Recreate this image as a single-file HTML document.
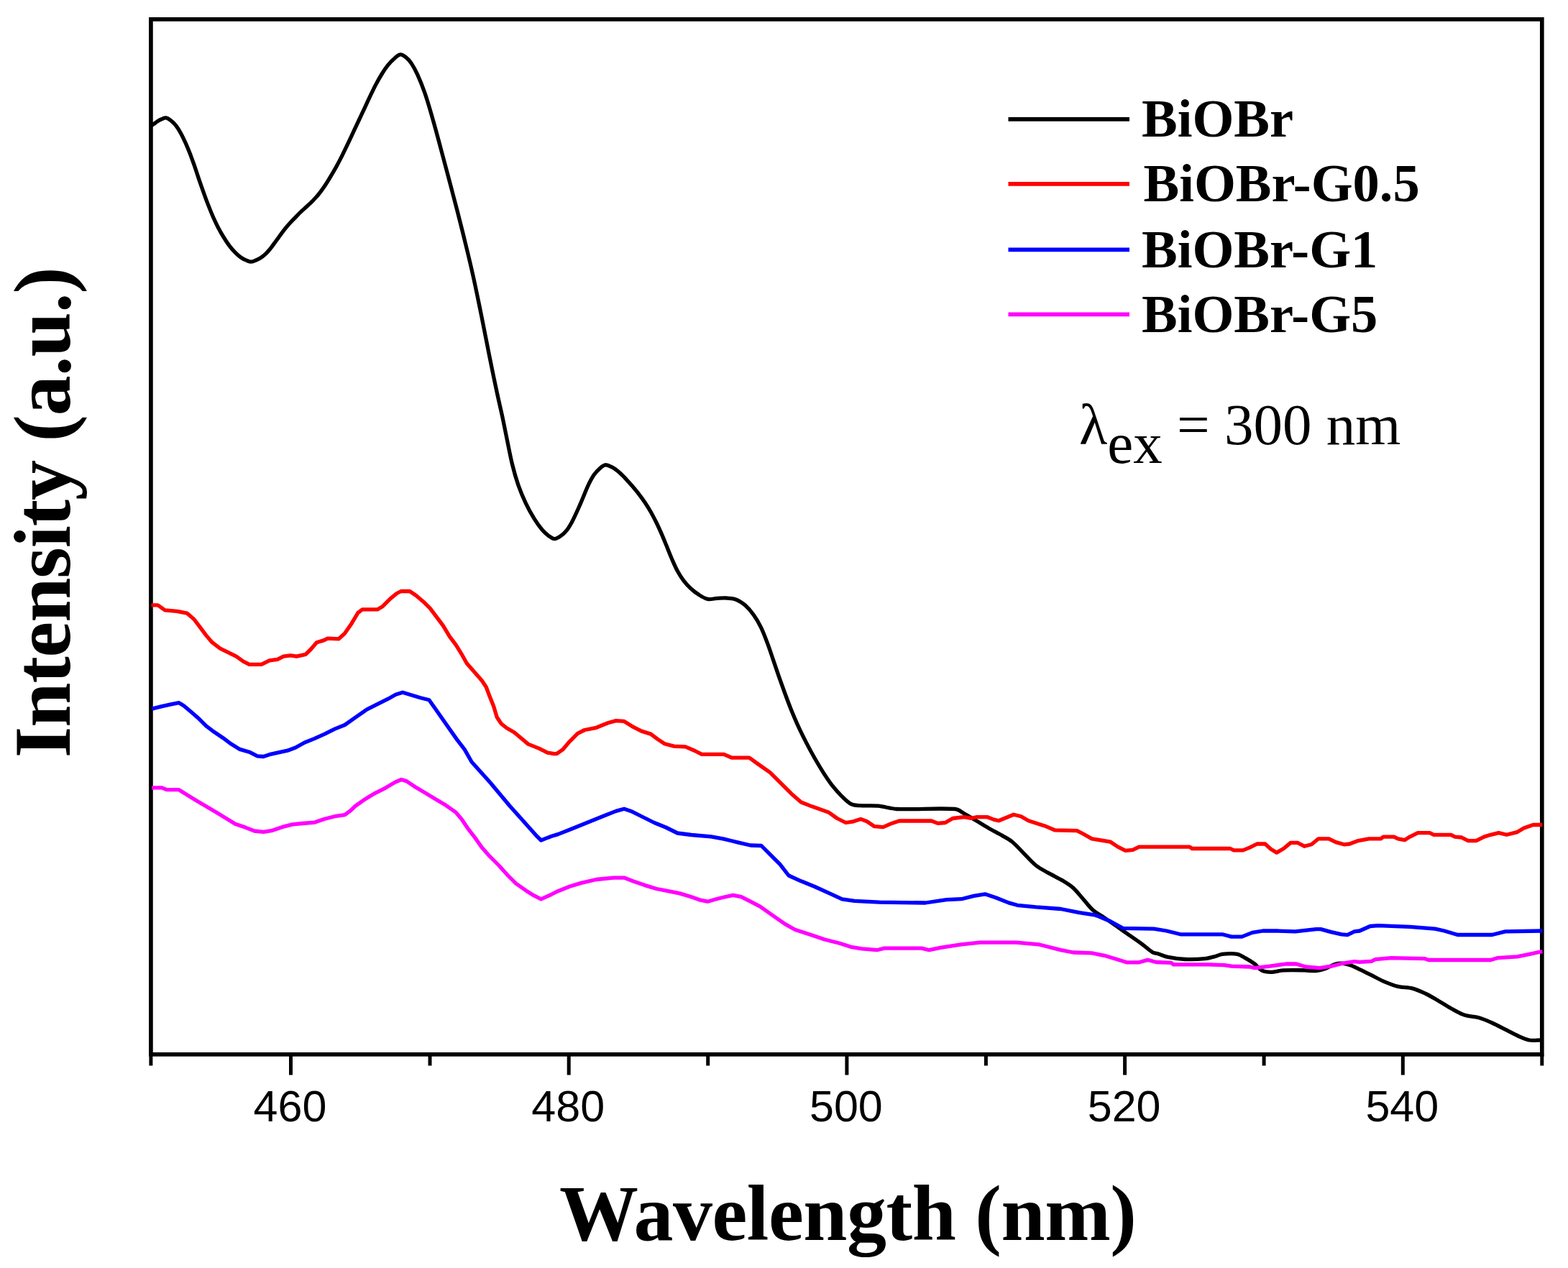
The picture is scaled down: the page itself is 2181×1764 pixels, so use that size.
<!DOCTYPE html>
<html><head><meta charset="utf-8"><title>PL spectra</title>
<style>
html,body{margin:0;padding:0;background:#fff;}
body{width:2181px;height:1764px;overflow:hidden;}
svg{display:block;}
.tl{font-family:"Liberation Sans",Arial,sans-serif;font-size:61px;fill:#000;}
.lg{font-family:"Liberation Serif","Times New Roman",serif;font-weight:bold;font-size:74.5px;fill:#000;}
.lam{font-family:"Liberation Serif","Times New Roman",serif;font-size:81px;fill:#000;}
.ax{font-family:"Liberation Serif","Times New Roman",serif;font-weight:bold;font-size:110px;fill:#000;}
</style></head>
<body>
<svg width="2181" height="1764" viewBox="0 0 2181 1764"><rect x="209.9" y="26.85" width="1934.90" height="1440.00" fill="none" stroke="#000" stroke-width="5.7"/>
<line x1="404.5" y1="1466.8" x2="404.5" y2="1495.5" stroke="#000" stroke-width="5"/>
<line x1="791.2" y1="1466.8" x2="791.2" y2="1495.5" stroke="#000" stroke-width="5"/>
<line x1="1177.9" y1="1466.8" x2="1177.9" y2="1495.5" stroke="#000" stroke-width="5"/>
<line x1="1564.6" y1="1466.8" x2="1564.6" y2="1495.5" stroke="#000" stroke-width="5"/>
<line x1="1951.3" y1="1466.8" x2="1951.3" y2="1495.5" stroke="#000" stroke-width="5"/>
<line x1="209.9" y1="1466.8" x2="209.9" y2="1482.5" stroke="#000" stroke-width="5"/>
<line x1="598.0" y1="1466.8" x2="598.0" y2="1482.5" stroke="#000" stroke-width="5"/>
<line x1="984.7" y1="1466.8" x2="984.7" y2="1482.5" stroke="#000" stroke-width="5"/>
<line x1="1371.4" y1="1466.8" x2="1371.4" y2="1482.5" stroke="#000" stroke-width="5"/>
<line x1="1758.1" y1="1466.8" x2="1758.1" y2="1482.5" stroke="#000" stroke-width="5"/>
<line x1="2144.8" y1="1466.8" x2="2144.8" y2="1482.5" stroke="#000" stroke-width="5"/>
<path d="M211.0,174.5 C212.0,173.8 213.0,173.2 213.9,172.5 C215.5,171.4 217.0,170.0 218.7,169.0 C220.6,167.8 222.6,166.7 224.7,165.8 C226.7,165.0 228.7,163.6 230.8,163.9 C233.5,164.3 235.8,166.2 237.9,167.9 C240.4,169.8 242.7,172.2 244.7,174.7 C247.2,178.0 249.4,181.6 251.4,185.2 C253.8,189.6 255.9,194.1 258.0,198.6 C260.3,203.8 262.5,209.1 264.6,214.4 C266.8,220.2 268.8,226.0 270.9,231.8 C272.9,237.8 274.8,243.7 276.8,249.7 C278.9,255.7 281.0,261.8 283.2,267.8 C285.3,273.8 287.5,279.7 289.8,285.6 C291.9,291.0 294.1,296.5 296.4,301.8 C298.6,306.7 300.9,311.7 303.4,316.5 C305.8,321.1 308.3,325.6 311.1,330.0 C313.6,334.1 316.3,338.2 319.2,342.1 C321.8,345.5 324.5,348.6 327.5,351.6 C329.8,353.9 332.2,356.1 334.9,358.0 C337.1,359.6 339.6,360.9 342.1,361.9 C344.5,362.9 346.9,364.2 349.4,364.2 C351.9,364.2 354.3,362.8 356.6,361.8 C359.0,360.8 361.4,359.5 363.6,358.0 C365.9,356.4 368.1,354.5 370.1,352.6 C372.2,350.5 374.1,348.3 376.0,346.0 C378.0,343.4 379.9,340.8 381.8,338.1 C383.9,335.4 385.8,332.5 387.9,329.8 C389.8,327.1 391.7,324.4 393.7,321.8 C395.5,319.4 397.4,317.0 399.4,314.7 C401.2,312.6 403.1,310.5 405.0,308.5 C407.0,306.4 409.0,304.4 411.0,302.3 C413.2,300.1 415.3,297.8 417.5,295.7 C419.4,293.8 421.5,291.9 423.5,290.1 C425.4,288.3 427.3,286.7 429.2,284.9 C431.2,283.1 433.1,281.2 435.0,279.3 C437.0,277.2 439.0,275.2 440.9,273.0 C442.8,270.8 444.6,268.5 446.4,266.1 C448.5,263.3 450.6,260.3 452.6,257.3 C455.2,253.3 457.7,249.2 460.1,245.1 C462.8,240.6 465.5,236.1 468.0,231.5 C470.5,226.9 472.9,222.3 475.3,217.6 C477.6,212.9 479.9,208.2 482.2,203.4 C484.6,198.5 486.9,193.5 489.2,188.6 C491.5,183.7 493.8,178.7 496.1,173.8 C498.4,168.9 500.7,164.1 503.0,159.2 C505.3,154.3 507.6,149.3 509.9,144.4 C512.2,139.5 514.4,134.5 516.8,129.6 C519.1,125.0 521.3,120.3 523.8,115.8 C526.1,111.4 528.5,107.2 531.1,103.0 C533.5,99.0 536.1,95.0 539.0,91.4 C541.6,88.1 544.4,84.9 547.6,82.2 C550.4,79.8 553.2,76.4 556.9,75.9 C559.8,75.5 562.5,78.1 564.8,79.9 C567.7,82.2 570.2,85.1 572.2,88.1 C575.4,92.9 578.1,98.1 580.5,103.4 C584.4,111.9 587.9,120.6 590.9,129.4 C595.0,141.2 598.4,153.2 601.8,165.2 C605.8,178.9 609.4,192.8 613.1,206.6 C616.9,221.0 620.8,235.3 624.6,249.7 C628.4,264.3 632.3,278.9 636.1,293.5 C639.8,308.2 643.6,322.8 647.1,337.5 C650.6,351.6 654.0,365.8 657.2,380.0 C660.4,394.1 663.3,408.2 666.2,422.4 C669.1,436.3 671.8,450.3 674.6,464.2 C677.3,477.6 679.8,491.0 682.6,504.4 C685.2,517.6 688.0,530.8 690.8,543.9 C693.3,555.8 696.1,567.5 698.7,579.4 C701.0,590.3 703.2,601.2 705.4,612.2 C707.7,623.3 709.7,634.5 712.4,645.5 C714.8,655.3 717.5,665.0 720.8,674.6 C723.8,683.1 727.3,691.5 731.1,699.6 C734.6,707.0 738.5,714.2 742.8,721.1 C746.2,726.6 749.8,731.9 753.9,736.8 C756.6,740.0 759.6,742.9 763.0,745.3 C765.5,747.2 768.2,749.6 771.3,749.6 C774.7,749.6 777.8,747.1 780.6,745.1 C783.6,743.0 786.3,740.3 788.6,737.4 C791.2,734.2 793.1,730.6 795.1,727.0 C797.2,723.0 799.1,718.9 801.0,714.9 C803.2,710.3 805.2,705.6 807.3,700.9 C809.3,696.2 811.2,691.5 813.2,686.7 C815.2,682.1 817.0,677.4 819.2,672.9 C821.4,668.6 823.5,664.3 826.2,660.5 C828.5,657.3 831.1,654.4 834.0,651.9 C836.4,649.8 838.8,647.2 841.9,646.8 C845.0,646.4 848.0,648.3 850.8,649.7 C854.1,651.3 857.0,653.4 859.8,655.7 C863.2,658.5 866.2,661.7 869.2,664.8 C872.6,668.3 875.8,672.0 878.9,675.6 C882.2,679.5 885.5,683.4 888.6,687.4 C891.8,691.5 894.8,695.7 897.7,700.0 C900.4,704.1 903.0,708.3 905.4,712.5 C907.9,717.0 910.2,721.5 912.5,726.0 C915.0,731.0 917.3,736.0 919.5,741.1 C922.1,746.9 924.4,752.7 926.8,758.6 C929.3,764.8 931.7,771.1 934.4,777.3 C936.9,783.0 939.3,788.8 942.3,794.3 C944.8,798.9 947.6,803.5 950.8,807.7 C953.8,811.7 957.2,815.4 960.9,818.8 C964.4,822.1 968.3,825.1 972.4,827.6 C976.1,830.0 980.0,832.5 984.4,833.4 C988.6,834.2 992.8,832.7 997.1,832.4 C1001.6,832.2 1006.1,831.7 1010.6,832.0 C1015.2,832.3 1019.9,832.5 1024.2,834.2 C1028.8,836.0 1033.0,839.0 1036.8,842.3 C1041.2,846.2 1044.9,850.7 1048.3,855.5 C1052.2,860.9 1055.5,866.7 1058.4,872.6 C1061.7,879.4 1064.4,886.6 1067.0,893.7 C1070.0,901.4 1072.5,909.3 1075.2,917.1 C1077.9,925.0 1080.5,932.9 1083.2,940.7 C1085.9,948.3 1088.6,955.9 1091.4,963.5 C1094.2,971.1 1097.0,978.7 1100.0,986.2 C1103.2,994.1 1106.5,1002.0 1110.1,1009.8 C1113.7,1017.8 1117.6,1025.6 1121.6,1033.4 C1125.4,1040.8 1129.4,1048.2 1133.6,1055.5 C1137.5,1062.3 1141.5,1069.0 1145.7,1075.6 C1149.6,1081.6 1153.5,1087.6 1157.9,1093.2 C1161.8,1098.1 1166.0,1102.9 1170.5,1107.3 C1174.7,1111.4 1178.8,1116.0 1184.0,1118.7 C1187.6,1120.6 1192.0,1120.4 1196.1,1120.7 C1204.5,1121.3 1213.0,1120.4 1221.4,1121.2 C1230.1,1122.0 1238.6,1125.1 1247.4,1125.5 C1274.4,1126.6 1301.6,1123.8 1328.6,1125.5 C1333.1,1125.8 1336.8,1129.3 1340.7,1131.5 C1346.6,1134.8 1352.2,1138.4 1358.0,1141.8 C1363.8,1145.3 1369.5,1148.9 1375.3,1152.2 C1381.6,1155.8 1388.1,1159.0 1394.3,1162.6 C1399.0,1165.3 1403.9,1167.8 1408.1,1171.2 C1413.8,1175.9 1418.5,1181.6 1423.7,1186.8 C1429.5,1192.5 1434.7,1198.9 1441.0,1204.0 C1446.2,1208.2 1452.4,1211.1 1458.2,1214.4 C1465.0,1218.3 1472.3,1221.5 1479.0,1225.6 C1483.8,1228.5 1488.7,1231.4 1492.8,1235.2 C1497.9,1239.9 1502.0,1245.5 1506.6,1250.7 C1511.2,1255.9 1515.2,1261.7 1520.4,1266.3 C1525.1,1270.4 1530.8,1273.1 1536.0,1276.6 C1541.8,1280.6 1547.5,1284.7 1553.3,1288.7 C1559.1,1292.7 1564.8,1296.8 1570.6,1300.8 C1576.3,1304.8 1582.2,1308.7 1587.8,1312.9 C1593.1,1316.8 1597.8,1321.5 1603.4,1325.0 C1605.2,1326.1 1607.6,1325.9 1609.7,1326.5 C1614.6,1328.0 1619.2,1330.3 1624.2,1331.3 C1632.2,1332.9 1640.3,1334.1 1648.4,1334.5 C1657.5,1334.9 1666.7,1334.6 1675.8,1333.7 C1680.7,1333.2 1685.5,1331.8 1690.3,1330.5 C1693.6,1329.6 1696.6,1327.7 1700.0,1327.3 C1707.0,1326.6 1714.1,1326.1 1721.0,1327.3 C1725.1,1328.0 1728.6,1330.8 1732.3,1332.9 C1736.7,1335.4 1741.1,1338.0 1745.2,1341.0 C1748.7,1343.6 1750.9,1347.9 1754.8,1349.8 C1758.7,1351.8 1763.3,1352.3 1767.7,1352.3 C1773.7,1352.3 1779.5,1350.1 1785.5,1349.8 C1795.2,1349.3 1804.8,1349.6 1814.5,1349.8 C1819.9,1349.9 1825.2,1351.0 1830.6,1350.6 C1835.0,1350.2 1839.3,1348.9 1843.5,1347.4 C1848.5,1345.6 1853.0,1342.6 1858.1,1341.0 C1860.7,1340.2 1863.4,1340.0 1866.1,1340.2 C1869.9,1340.5 1873.7,1341.4 1877.4,1342.6 C1881.3,1343.8 1885.0,1345.7 1888.7,1347.4 C1895.1,1350.4 1901.3,1353.6 1907.6,1356.7 C1913.8,1359.8 1919.8,1363.2 1926.1,1365.9 C1932.1,1368.4 1938.2,1370.9 1944.5,1372.4 C1951.1,1374.0 1958.2,1373.4 1964.8,1375.1 C1971.2,1376.8 1977.2,1379.7 1983.2,1382.5 C1988.9,1385.2 1994.3,1388.5 1999.8,1391.7 C2006.0,1395.3 2011.9,1399.3 2018.2,1402.8 C2024.2,1406.1 2030.2,1409.8 2036.7,1412.0 C2043.2,1414.2 2050.3,1413.8 2056.9,1415.7 C2063.3,1417.5 2069.3,1420.3 2075.4,1423.0 C2081.7,1425.8 2087.7,1429.1 2093.8,1432.2 C2099.9,1435.3 2105.9,1438.7 2112.2,1441.5 C2117.0,1443.6 2121.8,1446.1 2127.0,1447.0 C2132.4,1448.0 2138.0,1447.0 2143.5,1447.0" fill="none" stroke="#000" stroke-width="5.3" stroke-linejoin="round"/>
<polyline points="210.5,841.9 219.6,841.9 229.4,848.9 246.1,850.3 260.1,853.1 269.9,861.5 278.3,872.7 286.7,883.9 295.1,893.7 306.2,902.1 317.4,907.6 328.6,913.2 338.4,920.2 346.8,924.4 363.6,924.4 374.8,918.8 385.9,917.4 394.3,913.2 404.1,911.8 412.5,913.2 425.1,910.4 432.1,903.5 440.5,893.7 450.2,890.9 455.8,888.1 471.2,888.8 479.6,881.1 489.0,867.4 498.0,852.4 504.0,847.9 524.9,847.9 532.4,843.4 542.9,832.9 551.9,825.5 557.9,822.5 569.9,822.5 578.8,828.5 589.3,837.4 598.3,846.4 607.3,858.4 616.3,870.4 625.3,885.4 634.3,897.3 641.7,909.3 649.2,922.8 659.7,934.8 670.2,946.8 676.2,955.8 680.7,967.7 686.7,982.7 691.2,997.7 697.2,1006.7 704.7,1012.7 715.1,1018.7 725.6,1027.6 734.6,1035.1 749.6,1041.1 761.6,1047.1 770.5,1048.6 774.5,1048.5 782.6,1042.9 792.3,1031.6 803.5,1020.3 813.2,1015.5 829.4,1012.3 845.5,1005.8 856.8,1002.6 868.1,1003.4 879.4,1010.6 892.3,1017.1 905.2,1021.1 914.8,1028.4 924.5,1034.8 937.4,1038.1 953.5,1038.9 966.5,1044.5 976.1,1049.4 1006.8,1049.4 1018.1,1054.2 1042.3,1054.2 1053.8,1062.5 1071.1,1074.6 1086.7,1090.1 1100.5,1103.9 1114.3,1116.0 1129.9,1122.1 1152.3,1129.9 1164.4,1138.5 1176.5,1144.5 1186.9,1142.8 1197.2,1139.4 1205.9,1142.8 1216.3,1149.7 1228.4,1150.6 1240.4,1145.4 1250.8,1142.0 1295.7,1142.0 1304.4,1145.4 1314.8,1144.5 1325.1,1138.5 1340.7,1136.7 1351.1,1138.4 1358.0,1136.7 1373.6,1136.7 1382.2,1140.1 1389.1,1141.8 1399.5,1137.5 1409.9,1133.2 1420.2,1135.8 1430.6,1141.8 1444.4,1146.2 1454.8,1149.6 1466.9,1154.8 1498.0,1155.7 1506.6,1160.0 1518.7,1166.9 1544.6,1171.2 1555.0,1178.1 1565.4,1183.3 1575.7,1182.4 1584.4,1178.1 1654.8,1178.1 1658.1,1180.5 1711.3,1180.5 1716.1,1182.9 1729.0,1182.9 1738.7,1178.9 1748.4,1174.0 1759.7,1174.0 1767.7,1181.3 1775.8,1186.1 1785.5,1180.5 1795.2,1172.4 1804.8,1172.4 1814.5,1177.3 1824.2,1174.8 1833.9,1166.8 1848.4,1166.8 1858.1,1171.6 1869.4,1174.8 1877.4,1174.0 1889.2,1169.6 1904.0,1166.9 1920.5,1166.9 1924.2,1164.1 1939.0,1164.1 1944.5,1166.9 1953.7,1168.7 1961.1,1164.1 1972.1,1158.6 1988.7,1158.6 1994.3,1161.3 2018.2,1161.3 2023.7,1164.1 2033.0,1165.0 2042.2,1169.6 2053.2,1169.6 2064.3,1164.1 2073.5,1161.3 2084.6,1158.6 2095.6,1161.3 2110.4,1157.6 2119.6,1152.1 2132.5,1147.5 2145.4,1147.5" fill="none" stroke="#ff0000" stroke-width="5.3" stroke-linejoin="round" stroke-linecap="butt"/>
<polyline points="211.2,986.1 225.2,982.6 237.7,979.8 248.9,977.7 255.9,981.9 265.7,990.3 276.9,1000.1 286.7,1009.9 297.9,1018.3 310.4,1026.7 321.6,1035.1 332.8,1042.1 346.8,1046.2 358.0,1051.8 366.4,1052.5 374.8,1049.7 387.3,1046.9 399.9,1044.2 411.1,1040.0 423.7,1033.0 437.7,1027.4 451.6,1021.1 465.6,1014.1 479.6,1008.5 495.0,997.7 510.0,987.2 524.9,979.7 539.9,972.2 550.4,966.2 560.1,963.2 569.9,966.2 584.8,970.7 596.8,973.7 604.3,984.2 614.8,999.2 625.3,1014.2 635.8,1029.1 646.2,1042.6 656.1,1060.0 668.7,1074.0 681.3,1088.0 695.3,1104.7 709.3,1121.5 721.9,1135.5 734.4,1149.5 745.6,1162.1 752.6,1169.0 766.6,1163.5 776.1,1160.6 792.3,1154.2 808.4,1147.7 824.5,1141.3 840.6,1134.8 856.8,1128.4 868.1,1125.2 877.7,1128.4 893.9,1136.5 910.0,1144.5 926.1,1151.0 942.3,1159.0 961.6,1161.5 989.0,1163.9 1006.8,1167.1 1026.1,1171.9 1043.9,1176.0 1059.0,1176.5 1071.1,1188.6 1084.9,1202.4 1097.0,1218.0 1114.3,1225.8 1133.3,1233.5 1152.3,1242.2 1171.3,1250.8 1188.6,1253.4 1223.2,1255.1 1287.1,1256.0 1316.5,1251.7 1337.3,1250.7 1354.6,1246.4 1370.1,1243.8 1385.7,1249.0 1402.9,1255.9 1415.0,1259.3 1441.0,1261.9 1475.5,1264.5 1501.4,1269.7 1523.9,1273.2 1544.6,1281.8 1561.9,1291.3 1605.1,1292.2 1622.6,1295.0 1641.9,1299.8 1700.0,1299.8 1712.9,1303.1 1727.4,1303.1 1741.9,1297.4 1756.5,1295.0 1775.8,1295.0 1801.6,1295.8 1830.6,1292.6 1837.1,1292.6 1851.6,1296.6 1866.1,1299.8 1874.2,1300.6 1883.9,1295.8 1891.1,1295.0 1905.8,1288.5 1916.9,1287.6 1961.1,1289.4 1996.1,1292.2 2009.0,1295.0 2027.4,1300.5 2075.4,1300.5 2093.8,1295.9 2145.4,1295.0" fill="none" stroke="#0000ff" stroke-width="5.3" stroke-linejoin="round" stroke-linecap="butt"/>
<polyline points="211.2,1095.9 225.2,1095.9 232.2,1098.7 248.9,1098.7 260.1,1105.7 272.7,1113.4 286.7,1121.7 300.7,1130.1 314.6,1138.5 327.2,1146.2 341.2,1151.1 353.8,1156.0 366.4,1157.4 378.9,1155.3 392.9,1150.4 406.9,1146.9 420.9,1145.5 437.7,1144.1 451.6,1139.2 465.6,1135.7 479.6,1133.6 488.0,1127.3 494.0,1121.5 508.0,1111.7 521.9,1103.3 535.9,1096.3 549.9,1088.0 558.3,1084.5 565.3,1086.6 577.9,1095.0 591.8,1103.3 605.8,1111.7 619.8,1120.1 633.8,1129.9 642.2,1139.7 650.6,1152.3 660.3,1164.9 670.1,1178.8 681.3,1191.4 693.9,1204.0 706.5,1218.0 717.7,1229.2 731.6,1238.9 742.8,1245.9 752.6,1250.8 766.6,1244.5 776.1,1239.7 792.3,1233.2 808.4,1228.4 829.4,1223.5 853.5,1221.1 868.1,1221.1 881.0,1226.0 897.1,1231.6 913.2,1236.5 929.4,1239.7 945.5,1242.9 961.6,1247.7 972.9,1251.8 984.2,1254.2 995.5,1251.0 1005.2,1248.5 1019.7,1245.3 1031.0,1247.7 1043.9,1254.2 1057.3,1261.2 1074.6,1273.3 1091.8,1285.4 1105.7,1293.2 1126.4,1300.1 1147.1,1307.0 1167.9,1312.2 1183.4,1317.3 1199.0,1319.9 1219.7,1321.7 1230.1,1319.1 1282.0,1319.1 1292.3,1321.7 1309.6,1318.2 1337.3,1313.8 1363.2,1311.2 1413.3,1311.2 1444.4,1313.8 1458.2,1317.2 1475.5,1321.6 1492.8,1325.0 1518.7,1325.9 1536.0,1329.3 1553.3,1334.5 1567.1,1338.8 1584.4,1338.8 1596.5,1335.4 1608.1,1338.5 1629.0,1339.4 1632.3,1341.8 1680.6,1341.8 1703.2,1342.6 1712.9,1344.2 1738.7,1345.0 1745.2,1346.6 1766.1,1344.2 1788.7,1341.0 1803.2,1341.0 1816.1,1345.0 1835.5,1346.6 1851.6,1344.2 1867.7,1340.2 1883.9,1337.7 1891.1,1338.3 1907.6,1337.3 1913.2,1334.6 1935.3,1332.7 1981.4,1333.6 1986.9,1335.5 2073.5,1335.5 2082.7,1332.7 2110.4,1330.9 2128.8,1327.2 2145.4,1323.5" fill="none" stroke="#ff00ff" stroke-width="5.3" stroke-linejoin="round" stroke-linecap="butt"/>
<text x="403.5" y="1560" text-anchor="middle" class="tl">460</text>
<text x="790.2" y="1560" text-anchor="middle" class="tl">480</text>
<text x="1176.9" y="1560" text-anchor="middle" class="tl">500</text>
<text x="1563.6" y="1560" text-anchor="middle" class="tl">520</text>
<text x="1950.3" y="1560" text-anchor="middle" class="tl">540</text>
<line x1="1402.5" y1="165.8" x2="1571" y2="165.8" stroke="#000" stroke-width="5.7"/>
<text x="1588" y="190" class="lg">BiOBr</text>
<line x1="1402.5" y1="255.9" x2="1571" y2="255.9" stroke="#ff0000" stroke-width="5.7"/>
<text x="1590.5" y="280.3" class="lg">BiOBr-G0.5</text>
<line x1="1402.5" y1="347.4" x2="1571" y2="347.4" stroke="#0000ff" stroke-width="5.7"/>
<text x="1588" y="372.3" class="lg">BiOBr-G1</text>
<line x1="1402.5" y1="437.4" x2="1571" y2="437.4" stroke="#ff00ff" stroke-width="5.7"/>
<text x="1588" y="462.2" class="lg">BiOBr-G5</text>
<text x="1501" y="618" class="lam">λ<tspan dy="26.4">ex</tspan><tspan dy="-26.4"> = 300 nm</tspan></text>
<text x="1179.5" y="1725" text-anchor="middle" class="ax" textLength="803">Wavelength (nm)</text>
<text transform="translate(96.8,712.7) rotate(-90)" text-anchor="middle" class="ax" style="font-size:112px" textLength="683">Intensity (a.u.)</text></svg>
</body></html>
